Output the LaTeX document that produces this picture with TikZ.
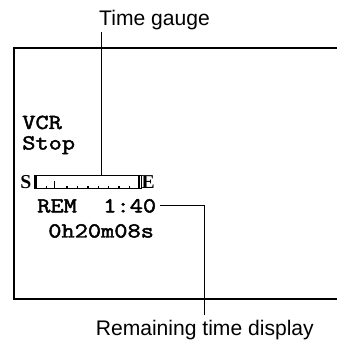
\documentclass[tikz,border=0pt]{standalone}
\usepackage{fontspec}
\usetikzlibrary{positioning, calc}
\newfontfamily\osdfont[FakeStretch=1.2, FakeBold=2.2]{Latin Modern Mono}
\newfontfamily\lblfont{Liberation Sans}
\newfontfamily\gaugefont{Liberation Serif}
\tikzset{
  osd/.style={font=\osdfont\fontsize{15.2}{17}\selectfont, anchor=base west, inner sep=0pt},
  callout/.style={font=\lblfont\fontsize{15}{18}\selectfont, anchor=base, inner sep=0pt},
  lead/.style={draw, line width=0.7pt},
  bar/.style={draw, line width=0.6pt, minimum width=2.675cm, minimum height=0.325cm, inner sep=0pt},
  ends/.style={font=\gaugefont\bfseries\fontsize{14}{16}\selectfont, inner sep=0pt},
}

\begin{document}
\begin{tikzpicture}
    \useasboundingbox (0,0) rectangle (8.425,8.5);
    % screen
    \draw[line width=0.8pt] (8.425,7.3) -- (0.35,7.3) -- (0.35,1.025) -- (8.425,1.025);
    \node[osd] (mode) at (0.55,5.275) {VCR};
    \node[osd] (state) at (0.55,4.7625) {Stop};
    % gauge
    \node[bar] (gauge) at (2.1875,3.95) {};
    \node[ends, left=0.05cm of gauge] (gs) {S};
    \node[ends, right=0pt of gauge] (ge) {E};
    \draw[line width=1pt] ([xshift=0.06cm]gauge.north west) -- ([xshift=0.06cm]gauge.south west);
    \draw[line width=1pt] ([xshift=-0.06cm]gauge.north east) -- ([xshift=-0.06cm]gauge.south east);
    \foreach \k in {0,2,3,...,8}
      \draw[line width=1pt] ([xshift={0.3175cm+\k*0.26cm}]gauge.south west) -- ++(0,0.07);
    \draw[line width=1pt] ([xshift=0.525cm]gauge.south west) -- ++(0,0.21);
    \node[osd] (rem) at (0.925,3.19) {REM~~1:40};
    \node[osd] (time) at (1.2,2.5625) {0h20m08s};
    % callouts
    \node[callout] (gaugelbl) at (3.8625,7.85) {Time gauge};
    \node[callout] (remlbl) at (5.12,0.1) {Remaining time display};
    \coordinate (gaugefoot) at (2.54,7.71);
    \draw[lead] (gaugefoot) -- (gaugefoot |- gauge.north);
    \draw[lead] ([xshift=0.1cm]rem.east) -| ([yshift=0.13cm]remlbl.north);
\end{tikzpicture}
\end{document}
